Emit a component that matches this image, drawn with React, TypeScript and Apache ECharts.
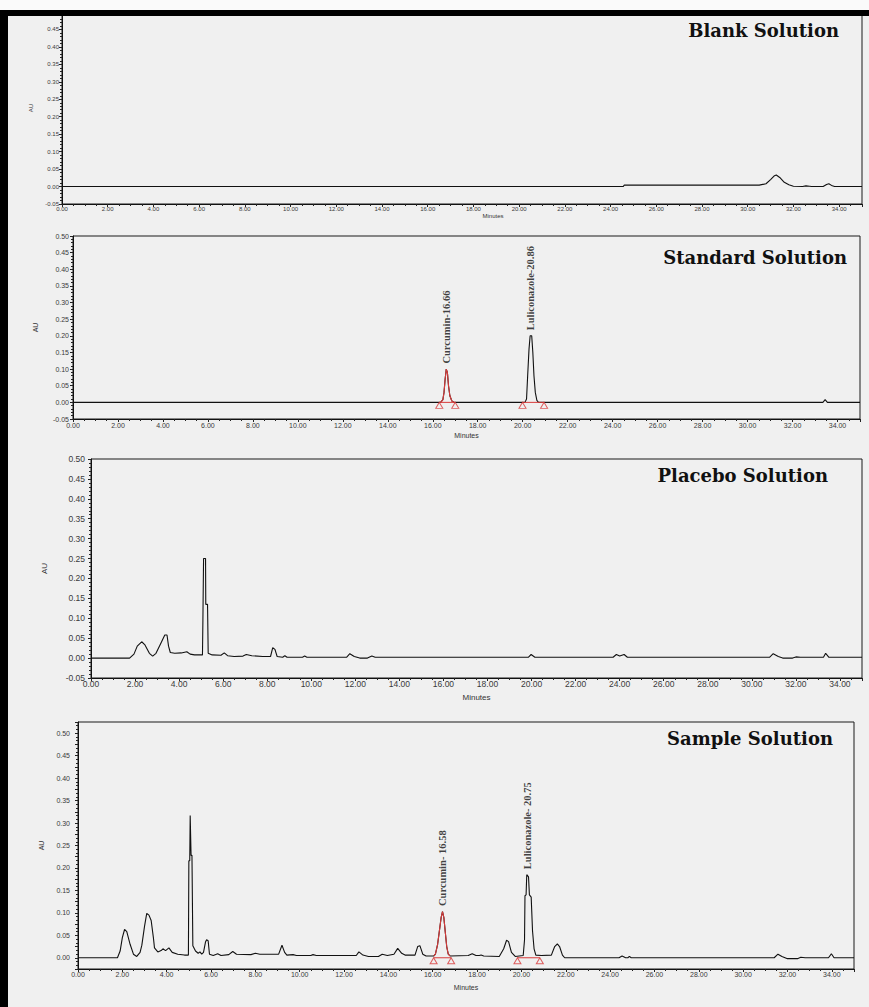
import React, { useEffect, useRef } from 'react';
import * as echarts from 'echarts';

// ---------------- data (time in minutes, response in AU) ----------------
const panelTitles = ['Blank Solution', 'Standard Solution', 'Placebo Solution', 'Sample Solution'];
const xAxisName = 'Minutes';
const yAxisName = 'AU';

const blankTrace: [number, number][] = [
  [0, 0], [24.55, 0], [24.6, 0.004], [30.5, 0.004], [30.8, 0.008], [31.0, 0.02], [31.15, 0.03],
  [31.25, 0.033], [31.4, 0.026], [31.6, 0.012], [31.8, 0.005], [32.0, 0.001], [32.4, 0.0],
  [32.55, 0.002], [32.7, 0.001], [32.8, 0], [33.3, 0.0], [33.45, 0.006], [33.55, 0.008],
  [33.7, 0.002], [33.8, 0], [35, 0],
];

const stdPart1: [number, number][] = [[0, 0], [16.35, 0]];
const stdCurcumin: [number, number][] = [
  [16.35, 0], [16.45, 0.008], [16.5, 0.03], [16.55, 0.07], [16.6, 0.1], [16.65, 0.09],
  [16.7, 0.05], [16.76, 0.02], [16.85, 0.004], [16.95, 0],
];
const stdPart2: [number, number][] = [[20.1, 0]];
const stdLuliconazole: [number, number][] = [
  [20.17, 0.01], [20.22, 0.08], [20.28, 0.16], [20.33, 0.2], [20.4, 0.2], [20.45, 0.15],
  [20.5, 0.08], [20.56, 0.03], [20.63, 0.006], [20.7, 0],
];
const stdPart3: [number, number][] = [[33.35, 0], [33.45, 0.008], [33.55, 0], [35, 0]];

const placeboTrace: [number, number][] = [
  [0, 0], [1.75, 0], [1.95, 0.01], [2.1, 0.03], [2.3, 0.041], [2.45, 0.033], [2.65, 0.012],
  [2.8, 0.005], [2.95, 0.012], [3.15, 0.035], [3.35, 0.058], [3.45, 0.058], [3.52, 0.03],
  [3.6, 0.014], [3.8, 0.012], [4.1, 0.013], [4.35, 0.016], [4.5, 0.01], [4.7, 0.008],
  [5.06, 0.008], [5.08, 0.095], [5.1, 0.095], [5.11, 0.25], [5.2, 0.25], [5.21, 0.135],
  [5.29, 0.135], [5.32, 0.012], [5.5, 0.008], [5.9, 0.007], [6.05, 0.013], [6.2, 0.006], [6.5, 0.004],
  [6.9, 0.005], [7.05, 0.009], [7.3, 0.006], [7.8, 0.004], [8.15, 0.004], [8.25, 0.026],
  [8.35, 0.022], [8.45, 0.004], [8.7, 0.002], [8.8, 0.006], [8.9, 0.002], [9.6, 0.002],
  [9.7, 0.005], [9.8, 0.002], [11.6, 0.002], [11.75, 0.011], [11.95, 0.004], [12.2, 0],
  [12.55, 0], [12.75, 0.005], [12.9, 0.002], [19.85, 0.002], [19.98, 0.009], [20.15, 0.002],
  [23.7, 0.002], [23.85, 0.009], [24.0, 0.005], [24.2, 0.009], [24.35, 0.002], [30.8, 0.002],
  [30.97, 0.011], [31.2, 0.004], [31.4, 0.0], [31.85, 0.0], [32.0, 0.003], [32.2, 0.002],
  [33.25, 0.002], [33.35, 0.012], [33.5, 0.002], [35, 0.002],
];

const samplePart1: [number, number][] = [
  [0, 0], [1.78, 0], [1.9, 0.015], [2.0, 0.045], [2.1, 0.063], [2.2, 0.058], [2.35, 0.03],
  [2.5, 0.008], [2.65, 0.003], [2.8, 0.012], [2.88, 0.028], [3.0, 0.07], [3.1, 0.099],
  [3.2, 0.095], [3.3, 0.083], [3.4, 0.045], [3.45, 0.022], [3.6, 0.013], [3.75, 0.016],
  [3.83, 0.02], [3.95, 0.016], [4.1, 0.022], [4.25, 0.012], [4.5, 0.008], [4.8, 0.006],
  [4.98, 0.006], [5.0, 0.216], [5.04, 0.216], [5.06, 0.317], [5.1, 0.228], [5.14, 0.228],
  [5.18, 0.027], [5.3, 0.015], [5.42, 0.01], [5.5, 0.013], [5.58, 0.008], [5.66, 0.012],
  [5.75, 0.035], [5.8, 0.04], [5.87, 0.038], [5.93, 0.008], [6.1, 0.005], [6.3, 0.009],
  [6.45, 0.005], [6.8, 0.007], [6.98, 0.014], [7.15, 0.008], [7.8, 0.007], [8.0, 0.01],
  [8.2, 0.008], [9.05, 0.008], [9.2, 0.028], [9.32, 0.012], [9.42, 0.006], [9.7, 0.007],
  [9.85, 0.005], [10.5, 0.005], [10.6, 0.007], [10.75, 0.005], [12.55, 0.005], [12.67, 0.013],
  [12.85, 0.006], [13.1, 0.003], [13.55, 0.003], [13.72, 0.008], [13.95, 0.005], [14.25, 0.008],
  [14.42, 0.021], [14.6, 0.01], [14.75, 0.006], [15.2, 0.006], [15.32, 0.025], [15.42, 0.027],
  [15.55, 0.008], [15.7, 0.004], [16.05, 0.004],
];
const sampleCurcumin: [number, number][] = [
  [16.05, 0.004], [16.12, 0.008], [16.22, 0.03], [16.3, 0.06], [16.38, 0.09], [16.44, 0.103],
  [16.5, 0.09], [16.56, 0.06], [16.63, 0.025], [16.7, 0.008], [16.78, 0.004],
];
const samplePart2: [number, number][] = [
  [17.6, 0.005], [17.78, 0.009], [17.95, 0.005], [18.1, 0.005], [18.18, 0.006], [18.3, 0.004],
  [19.0, 0.003], [19.2, 0.02], [19.33, 0.039], [19.42, 0.036], [19.55, 0.012], [19.72, 0.003],
];
const sampleLuliconazole: [number, number][] = [
  [20.08, 0.005], [20.14, 0.04], [20.16, 0.138], [20.21, 0.14], [20.24, 0.185], [20.32, 0.18],
  [20.36, 0.14], [20.44, 0.135], [20.5, 0.06], [20.57, 0.02], [20.65, 0.006],
];
const samplePart3: [number, number][] = [
  [20.9, 0.005], [21.35, 0.006], [21.5, 0.025], [21.62, 0.031], [21.72, 0.025], [21.85, 0.006],
  [21.95, 0.0], [24.4, 0.0], [24.54, 0.004], [24.7, 0.0], [24.8, 0.0], [24.87, 0.003],
  [24.95, 0], [31.4, 0], [31.57, 0.008], [31.75, 0.003], [32.0, -0.002], [32.45, -0.002],
  [32.6, 0.001], [32.8, 0], [33.85, 0], [33.98, 0.009], [34.1, 0], [35, 0],
];

// peak annotations: name, retention time at apex, apex height
const stdPeakNames = ['Curcumin-16.66', 'Luliconazole-20.86'];
const stdPeakTimes = [16.6, 20.36];
const stdPeakHeights = [0.1, 0.2];
const samplePeakNames = ['Curcumin- 16.58', 'Luliconazole- 20.75'];
const samplePeakTimes = [16.44, 20.26];
const samplePeakHeights = [0.103, 0.185];

// integration start / end markers (minutes)
const stdIntegration: [number, number][] = [[16.29, 17.0], [19.99, 20.95]];
const sampleIntegration: [number, number][] = [[16.04, 16.83], [19.82, 20.83]];

const standardTrace = [...stdPart1, ...stdCurcumin, ...stdPart2, ...stdLuliconazole, ...stdPart3];
const sampleTrace = [...samplePart1, ...sampleCurcumin, ...samplePart2, ...sampleLuliconazole, ...samplePart3];

// ---------------- layout ----------------
const layouts = [
  { left: 62, top: 12, width: 800, height: 192, tickFont: 6, yLabelMargin: 3, xLabelMargin: 2, yNameGap: 26, xNameGap: 6, nameFont: 6, xNameShift: 31, titleRight: 30, titleTop: 21 },
  { left: 73, top: 236, width: 787, height: 183, tickFont: 7, yLabelMargin: 4, xLabelMargin: 3, yNameGap: 34, xNameGap: 13, nameFont: 7, xNameShift: 0, titleRight: 22, titleTop: 248 },
  { left: 91, top: 459, width: 771, height: 219, tickFont: 8.5, yLabelMargin: 6, xLabelMargin: 1, yNameGap: 43, xNameGap: 15, nameFont: 8, xNameShift: 0, titleRight: 41, titleTop: 466 },
  { left: 78, top: 722, width: 776, height: 247, tickFont: 7, yLabelMargin: 8, xLabelMargin: 2, yNameGap: 31, xNameGap: 15, nameFont: 7, xNameShift: 0, titleRight: 36, titleTop: 729 },
];

const RED = '#d83a3a';
const fmt2 = (v: number) => v.toFixed(2);

function buildOption() {
  const grid = layouts.map((l) => ({
    left: l.left, top: l.top, width: l.width, height: l.height,
    show: true, borderColor: '#1a1a1a', borderWidth: 1, backgroundColor: 'transparent',
  }));

  const xAxis = layouts.map((l, i) => ({
    type: 'value', gridIndex: i, min: 0, max: 35, interval: 2,
    axisLine: { show: true, onZero: false, lineStyle: { color: '#111', width: 1 } },
    axisTick: { show: true, length: 3, lineStyle: { color: '#222' } },
    minorTick: { show: true, splitNumber: 4, length: 2, lineStyle: { color: '#222' } },
    splitLine: { show: false },
    axisLabel: {
      fontSize: l.tickFont, color: '#3a3a3a', margin: l.xLabelMargin, formatter: fmt2,
      showMaxLabel: false, fontFamily: 'Liberation Sans',
    },
    name: xAxisName, nameLocation: 'middle', nameGap: l.xNameGap,
    nameTextStyle: { fontSize: l.nameFont, color: '#333', fontFamily: 'Liberation Sans', padding: [0, 0, 0, l.xNameShift * 2] },
  }));

  const yAxis = layouts.map((l, i) => {
    const last = i === 3;
    return {
      type: 'value', gridIndex: i,
      min: last ? -0.025 : -0.05, max: last ? 0.525 : 0.5, interval: last ? 0.025 : 0.05,
      axisLine: { show: true, onZero: false, lineStyle: { color: '#111', width: 1 } },
      axisTick: { show: true, length: 3, lineStyle: { color: '#222' } },
      minorTick: { show: true, splitNumber: last ? 3 : 5, length: 2, lineStyle: { color: '#222' } },
      splitLine: { show: false },
      axisLabel: {
        fontSize: l.tickFont, color: '#3a3a3a', margin: l.yLabelMargin, fontFamily: 'Liberation Sans',
        formatter: last
          ? (v: number) => {
              const k = v / 0.05;
              return Math.abs(k - Math.round(k)) < 1e-6 && v > -1e-9 && v < 0.5 + 1e-9 ? v.toFixed(2) : '';
            }
          : fmt2,
      },
      name: yAxisName, nameLocation: 'middle', nameGap: l.yNameGap,
      nameTextStyle: { fontSize: l.nameFont, color: '#333', fontFamily: 'Liberation Sans' },
    };
  });

  const title = layouts.map((l, i) => ({
    text: panelTitles[i], right: l.titleRight, top: l.titleTop, padding: 0,
    textStyle: { fontFamily: 'DejaVu Serif', fontWeight: 'bold', fontSize: 18, color: '#111' },
  }));

  const traceSeries = (data: [number, number][], idx: number, color = '#111') => ({
    type: 'line', xAxisIndex: idx, yAxisIndex: idx, data, showSymbol: false, silent: true,
    lineStyle: { color, width: 1.1 }, z: color === '#111' ? 2 : 3,
  });

  const series: any[] = [
    traceSeries(blankTrace, 0),
    traceSeries(standardTrace, 1),
    traceSeries(stdCurcumin, 1, RED),
    traceSeries(placeboTrace, 2),
    traceSeries(sampleTrace, 3),
    traceSeries(sampleCurcumin, 3, RED),
  ];

  const integrationSeries = (marks: [number, number][], idx: number) => {
    marks.forEach((m) => {
      series.push({
        type: 'line', xAxisIndex: idx, yAxisIndex: idx, silent: true, showSymbol: false,
        data: [[m[0], 0], [m[1], 0]], lineStyle: { color: RED, width: 1 }, z: 4,
      });
    });
    series.push({
      type: 'scatter', xAxisIndex: idx, yAxisIndex: idx, silent: true,
      data: marks.flatMap((m) => [[m[0], 0], [m[1], 0]]),
      symbol: 'triangle', symbolSize: [7, 6], symbolOffset: [0, 3],
      itemStyle: { color: 'rgba(240,240,240,0.6)', borderColor: RED, borderWidth: 1 }, z: 5,
    });
  };
  integrationSeries(stdIntegration, 1);
  integrationSeries(sampleIntegration, 3);

  const peakLabels = (names: string[], times: number[], heights: number[], idx: number) => ({
    type: 'scatter', xAxisIndex: idx, yAxisIndex: idx, silent: true, symbolSize: 1,
    itemStyle: { color: 'rgba(0,0,0,0)' },
    data: names.map((n, k) => ({ name: n, value: [times[k], heights[k]] })),
    label: {
      show: true, formatter: '{b}', position: 'top', distance: 5, rotate: 90,
      align: 'left', verticalAlign: 'middle',
      fontFamily: 'Liberation Serif', fontWeight: 'bold', fontSize: 10.5, color: '#111',
    },
    z: 6,
  });
  series.push(peakLabels(stdPeakNames, stdPeakTimes, stdPeakHeights, 1));
  series.push(peakLabels(samplePeakNames, samplePeakTimes, samplePeakHeights, 3));

  return {
    animation: false,
    backgroundColor: '#f0f0f0',
    title,
    grid,
    xAxis,
    yAxis,
    series,
    graphic: [
      { type: 'rect', left: 0, top: 0, shape: { x: 0, y: 0, width: 869, height: 10 }, style: { fill: '#fafafa' }, z: 0 },
      { type: 'rect', shape: { x: 0, y: 10, width: 869, height: 6 }, style: { fill: '#000' }, z: 10 },
      { type: 'rect', shape: { x: 0, y: 10, width: 8, height: 997 }, style: { fill: '#000' }, z: 10 },
    ],
  };
}

export default function App() {
  const ref = useRef<HTMLDivElement>(null);
  useEffect(() => {
    if (!ref.current) return;
    const chart = echarts.init(ref.current, null, { renderer: 'svg' });
    chart.setOption(buildOption() as any);
    return () => chart.dispose();
  }, []);
  return (
    <div
      ref={ref}
      style={{ position: 'absolute', left: 0, top: 0, width: 869, height: 1007 }}
    />
  );
}
